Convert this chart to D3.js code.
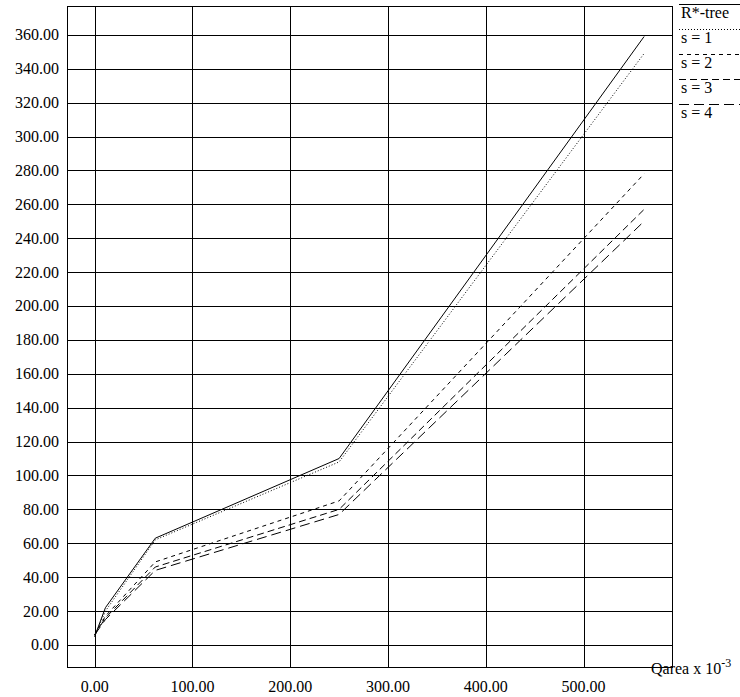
<!DOCTYPE html>
<html>
<head>
<meta charset="utf-8">
<script src="https://cdn.jsdelivr.net/npm/d3@7"></script>
<style>
body { margin: 0; background: #fff; }
svg { display: block; }
</style>
</head>
<body>
<svg id="drawing_region" width="740" height="697" font-family="Liberation Serif, Times New Roman, serif"></svg>
<script>
// query area (x 10^-3) at each measured point
var qarea = [0, 11, 62, 250, 562];
var rtree = [5, 22, 63, 110, 359];
var s1 = [5, 20, 62, 108, 349];
var s2 = [6, 17, 49, 85, 278];
var s3 = [6, 16, 46, 80, 257];
var s4 = [6, 15, 44, 77, 250];

var seriesNames = ["R*-tree", "s = 1", "s = 2", "s = 3", "s = 4"];
var seriesValues = [rtree, s1, s2, s3, s4];
var dashes = [null, "1,2", "4,4", "7,4", "10,5"];

var xTicks = [0, 100, 200, 300, 400, 500];
var yTicks = d3.range(0, 361, 20);

var width = 740;
var height = 697;
var frame = { left: 67, top: 6, right: 672, bottom: 667 };

var svg = d3.select('#drawing_region');

const xscale = d3.scaleLinear()
    .domain([-28.3, 590.5])
    .range([frame.left, frame.right]);

const yscale = d3.scaleLinear()
    .domain([-13, 377])
    .range([frame.bottom, frame.top]);

// grid lines
var grid = svg.append('g')
    .attr('stroke', '#000')
    .attr('stroke-width', 1)
    .attr('shape-rendering', 'crispEdges');

grid.selectAll('.vgrid')
    .data(xTicks)
    .join('line')
    .attr('x1', d => Math.round(xscale(d)) + 0.5)
    .attr('x2', d => Math.round(xscale(d)) + 0.5)
    .attr('y1', frame.top)
    .attr('y2', frame.bottom);

grid.selectAll('.hgrid')
    .data(yTicks)
    .join('line')
    .attr('class', 'hgrid')
    .attr('x1', frame.left)
    .attr('x2', frame.right)
    .attr('y1', d => Math.round(yscale(d)) + 0.5)
    .attr('y2', d => Math.round(yscale(d)) + 0.5);

svg.append('rect')
    .attr('x', frame.left + 0.5)
    .attr('y', frame.top + 0.5)
    .attr('width', frame.right - frame.left)
    .attr('height', frame.bottom - frame.top)
    .attr('fill', 'none')
    .attr('stroke', '#000')
    .attr('shape-rendering', 'crispEdges');

// tick labels
svg.append('g').selectAll('text')
    .data(xTicks)
    .join('text')
    .attr('x', d => xscale(d))
    .attr('y', 692)
    .attr('text-anchor', 'middle')
    .attr('font-size', 16)
    .text(d => d.toFixed(2));

svg.append('g').selectAll('text')
    .data(yTicks)
    .join('text')
    .attr('x', 59)
    .attr('y', d => yscale(d) + 5.5)
    .attr('text-anchor', 'end')
    .attr('font-size', 16)
    .text(d => d.toFixed(2));

var xlabel = svg.append('text')
    .attr('x', 651)
    .attr('y', 674)
    .attr('font-size', 16);
xlabel.append('tspan').text('Qarea x 10');
xlabel.append('tspan')
    .attr('dy', -7)
    .attr('font-size', 12)
    .text('-3');

// curves
var line = d3.line()
    .x((d, i) => xscale(qarea[i]))
    .y(d => yscale(d));

svg.append('g').selectAll('path')
    .data(seriesValues)
    .join('path')
    .attr('d', d => line(d))
    .attr('fill', 'none')
    .attr('stroke', '#000')
    .attr('stroke-width', 1)
    .attr('stroke-dasharray', (d, i) => dashes[i]);

// legend
var legend = svg.append('g').selectAll('g')
    .data(seriesNames)
    .join('g')
    .attr('transform', (d, i) => `translate(679, ${4 + i * 25})`);

legend.append('line')
    .attr('x1', 0)
    .attr('x2', 70)
    .attr('y1', 0.5)
    .attr('y2', 0.5)
    .attr('stroke', '#000')
    .attr('stroke-dasharray', (d, i) => dashes[i]);

legend.append('text')
    .attr('x', 2)
    .attr('y', 14)
    .attr('font-size', 16)
    .text(d => d);
</script>
</body>
</html>
